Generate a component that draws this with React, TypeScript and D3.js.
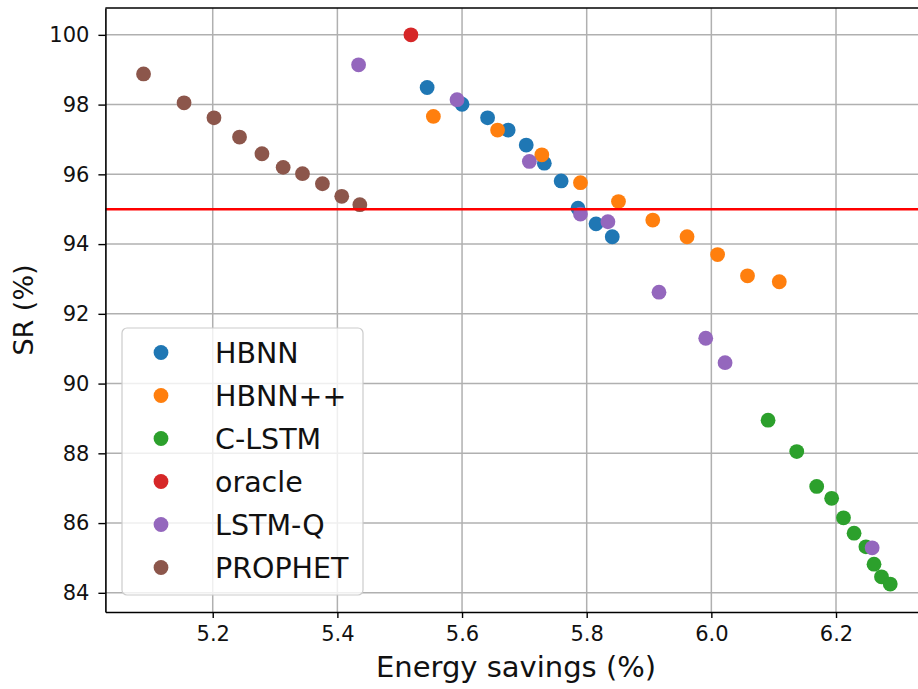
import { useRef, useEffect } from 'react';
import * as d3 from 'd3';

const seriesNames = ['HBNN', 'HBNN++', 'C-LSTM', 'oracle', 'LSTM-Q', 'PROPHET'];
const seriesColors = ['#1f77b4', '#ff7f0e', '#2ca02c', '#d62728', '#9467bd', '#8c564b'];

const hbnnX = [5.544, 5.6, 5.641, 5.674, 5.703, 5.732, 5.759, 5.786, 5.815, 5.841];
const hbnnY = [98.49, 98.01, 97.62, 97.27, 96.84, 96.32, 95.81, 95.03, 94.58, 94.21];

const hbnnPPX = [5.554, 5.657, 5.728, 5.79, 5.851, 5.906, 5.961, 6.01, 6.058, 6.109];
const hbnnPPY = [97.66, 97.27, 96.56, 95.76, 95.22, 94.69, 94.21, 93.7, 93.09, 92.92];

const clstmX = [6.091, 6.137, 6.169, 6.193, 6.212, 6.229, 6.248, 6.261, 6.273, 6.287];
const clstmY = [88.95, 88.05, 87.05, 86.71, 86.15, 85.71, 85.32, 84.82, 84.46, 84.25];

const oracleX = [5.518];
const oracleY = [100];

const lstmqX = [5.434, 5.592, 5.708, 5.79, 5.834, 5.916, 5.991, 6.022, 6.258];
const lstmqY = [99.14, 98.14, 96.37, 94.86, 94.64, 92.62, 91.3, 90.6, 85.29];

const prophetX = [5.089, 5.154, 5.202, 5.243, 5.279, 5.313, 5.344, 5.376, 5.407, 5.436];
const prophetY = [98.88, 98.05, 97.62, 97.07, 96.59, 96.2, 96.02, 95.73, 95.37, 95.13];

const threshold = 95;

const xTicks = [5.2, 5.4, 5.6, 5.8, 6.0, 6.2];
const yTicks = [84, 86, 88, 90, 92, 94, 96, 98, 100];

const xDomain = [5.0278, 6.35];
const yDomain = [83.45, 100.77];

export default function App() {
  const ref = useRef<SVGSVGElement>(null);

  useEffect(() => {
    const width = 918;
    const height = 689;
    const left = 105.4;
    const right = 929.5; // axes run past the picture edge
    const top = 8;
    const bottom = 612;
    const font = 'DejaVu Sans, sans-serif';

    const svg = d3.select(ref.current);
    svg.selectAll('*').remove();
    svg.attr('width', width).attr('height', height);

    const x = d3.scaleLinear().domain(xDomain).range([left, right]);
    const y = d3.scaleLinear().domain(yDomain).range([bottom, top]);

    const series = [
      [hbnnX, hbnnY],
      [hbnnPPX, hbnnPPY],
      [clstmX, clstmY],
      [oracleX, oracleY],
      [lstmqX, lstmqY],
      [prophetX, prophetY],
    ].map(([xs, ys], i) => ({
      name: seriesNames[i],
      color: seriesColors[i],
      points: xs.map((v, j) => ({ x: v, y: ys[j] })),
    }));

    // grid
    const grid = svg.append('g');
    grid
      .selectAll('line.gx')
      .data(xTicks)
      .join('line')
      .attr('x1', (d) => x(d))
      .attr('x2', (d) => x(d))
      .attr('y1', top)
      .attr('y2', bottom)
      .attr('stroke', '#b0b0b0')
      .attr('stroke-width', 1.5);
    grid
      .selectAll('line.gy')
      .data(yTicks)
      .join('line')
      .attr('x1', left)
      .attr('x2', right)
      .attr('y1', (d) => y(d))
      .attr('y2', (d) => y(d))
      .attr('stroke', '#b0b0b0')
      .attr('stroke-width', 1.5);

    // scatter
    series.forEach((s) => {
      svg
        .append('g')
        .selectAll('circle')
        .data(s.points)
        .join('circle')
        .attr('cx', (d) => x(d.x))
        .attr('cy', (d) => y(d.y))
        .attr('r', 7.4)
        .attr('fill', s.color);
    });

    // threshold line
    svg
      .append('line')
      .attr('x1', left)
      .attr('x2', right)
      .attr('y1', y(threshold))
      .attr('y2', y(threshold))
      .attr('stroke', '#ff0000')
      .attr('stroke-width', 2.6);

    // axes
    const xAxis = svg
      .append('g')
      .attr('transform', `translate(0, ${bottom})`)
      .call(
        d3.axisBottom(x).tickValues(xTicks).tickFormat(d3.format('.1f')).tickSize(6).tickPadding(8).tickSizeOuter(0)
      );
    const yAxis = svg
      .append('g')
      .attr('transform', `translate(${left}, 0)`)
      .call(d3.axisLeft(y).tickValues(yTicks).tickSize(7).tickPadding(9).tickSizeOuter(0));

    [xAxis, yAxis].forEach((a) => {
      a.select('.domain').attr('stroke', '#000').attr('stroke-width', 1.6);
      a.selectAll('.tick line').attr('stroke', '#000').attr('stroke-width', 1.4);
      a.selectAll('.tick text').attr('fill', '#111').style('font-family', font).style('font-size', '21px');
    });

    // top spine
    svg
      .append('line')
      .attr('x1', left)
      .attr('x2', right)
      .attr('y1', top)
      .attr('y2', top)
      .attr('stroke', '#000')
      .attr('stroke-width', 1.6);

    // axis labels
    svg
      .append('text')
      .attr('x', 516)
      .attr('y', 677)
      .attr('text-anchor', 'middle')
      .style('font-family', font)
      .style('font-size', '29px')
      .attr('fill', '#111')
      .text('Energy savings (%)');

    svg
      .append('text')
      .attr('transform', `translate(33, ${(top + bottom) / 2}) rotate(-90)`)
      .attr('text-anchor', 'middle')
      .style('font-family', font)
      .style('font-size', '27px')
      .attr('fill', '#111')
      .text('SR (%)');

    // legend
    const legend = svg.append('g').attr('transform', 'translate(122, 328)');
    legend
      .append('rect')
      .attr('width', 241)
      .attr('height', 267)
      .attr('rx', 5)
      .attr('fill', 'white')
      .attr('fill-opacity', 0.8)
      .attr('stroke', '#cccccc')
      .attr('stroke-width', 1.2);

    const item = legend
      .selectAll('g')
      .data(series)
      .join('g')
      .attr('transform', (_, i) => `translate(0, ${24.5 + i * 43})`);
    item
      .append('circle')
      .attr('cx', 39)
      .attr('cy', 0)
      .attr('r', 7.4)
      .attr('fill', (d) => d.color);
    item
      .append('text')
      .attr('x', 93)
      .attr('y', 10)
      .style('font-family', font)
      .style('font-size', '28.5px')
      .attr('fill', '#111')
      .text((d) => d.name);
  }, []);

  return <svg ref={ref} style={{ position: 'absolute', left: 0, top: 0, display: 'block' }} />;
}
